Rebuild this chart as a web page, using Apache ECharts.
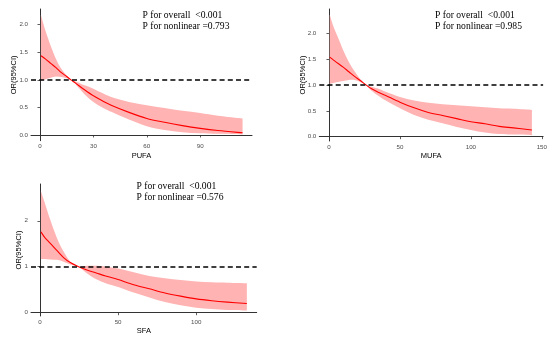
<!DOCTYPE html>
<html><head><meta charset="utf-8">
<script src="https://cdn.jsdelivr.net/npm/echarts@6/dist/echarts.min.js"></script>
<style>html,body{margin:0;padding:0;background:#fff}#c{width:550px;height:340px}</style>
</head><body><div id="c"></div>
<script>
// ---- data ----
const pufaX     = [0.5, 3, 6, 9, 12, 15, 17.4, 20, 25, 30, 35, 40, 50, 60, 70, 80, 90, 100, 113.8];
const pufaFit   = [1.44, 1.38, 1.30, 1.22, 1.13, 1.06, 1.0, 0.94, 0.82, 0.71, 0.62, 0.54, 0.41, 0.30, 0.23, 0.17, 0.12, 0.08, 0.04];
const pufaUpper = [2.18, 1.90, 1.62, 1.38, 1.20, 1.08, 1.0, 0.97, 0.90, 0.84, 0.76, 0.69, 0.60, 0.54, 0.49, 0.44, 0.40, 0.35, 0.30];
const pufaLower = [0.98, 1.01, 1.04, 1.06, 1.05, 1.03, 1.0, 0.92, 0.74, 0.60, 0.50, 0.42, 0.28, 0.16, 0.09, 0.05, 0.03, 0.02, 0.01];

const mufaX     = [0.5, 3, 6, 10, 14, 18, 22, 26.3, 30, 35, 40, 50, 60, 70, 80, 90, 100, 110, 120, 130, 143];
const mufaFit   = [1.545, 1.49, 1.43, 1.35, 1.26, 1.17, 1.09, 1.0, 0.93, 0.86, 0.80, 0.67, 0.56, 0.47, 0.41, 0.35, 0.29, 0.25, 0.20, 0.17, 0.13];
const mufaUpper = [2.37, 2.15, 1.95, 1.68, 1.45, 1.27, 1.12, 1.0, 0.97, 0.93, 0.87, 0.77, 0.70, 0.66, 0.63, 0.61, 0.59, 0.57, 0.55, 0.54, 0.52];
const mufaLower = [1.025, 1.04, 1.06, 1.08, 1.10, 1.10, 1.06, 1.0, 0.89, 0.79, 0.70, 0.55, 0.42, 0.33, 0.26, 0.19, 0.13, 0.08, 0.05, 0.04, 0.03];

const sfaX      = [0.6, 3, 6.6, 10.9, 15.1, 19.4, 24.7, 30, 36.4, 42, 50, 60, 70, 80, 90, 100, 110, 120, 132.4];
const sfaFit    = [1.76, 1.64, 1.51, 1.35, 1.20, 1.09, 1.0, 0.93, 0.86, 0.80, 0.72, 0.61, 0.52, 0.43, 0.36, 0.30, 0.26, 0.23, 0.20];
const sfaUpper  = [2.65, 2.40, 2.02, 1.62, 1.33, 1.11, 1.0, 1.02, 1.02, 1.0, 0.96, 0.88, 0.80, 0.75, 0.71, 0.68, 0.66, 0.65, 0.64];
const sfaLower  = [1.17, 1.17, 1.16, 1.15, 1.11, 1.05, 1.0, 0.86, 0.72, 0.64, 0.56, 0.44, 0.33, 0.23, 0.16, 0.11, 0.08, 0.06, 0.05];

const pufaXTicks = [0, 30, 60, 90];
const pufaYTicks = [0, 0.5, 1, 1.5, 2];
const mufaXTicks = [0, 50, 100, 150];
const mufaYTicks = [0, 0.5, 1, 1.5, 2];
const sfaXTicks  = [0, 50, 100];
const sfaYTicks  = [0, 1, 2];

const pufaNotes = ['P for overall  <0.001', 'P for nonlinear =0.793'];
const mufaNotes = ['P for overall  <0.001', 'P for nonlinear =0.985'];
const sfaNotes  = ['P for overall  <0.001', 'P for nonlinear =0.576'];

const refValue = 1;

// ---- helpers: smooth path through already-projected pixel points ----
function crSegments(pts) {
  let d = '';
  for (let i = 0; i < pts.length - 1; i++) {
    const p0 = pts[Math.max(i - 1, 0)], p1 = pts[i], p2 = pts[i + 1], p3 = pts[Math.min(i + 2, pts.length - 1)];
    const c1 = [p1[0] + (p2[0] - p0[0]) / 6, p1[1] + (p2[1] - p0[1]) / 6];
    const c2 = [p2[0] - (p3[0] - p1[0]) / 6, p2[1] - (p3[1] - p1[1]) / 6];
    d += ' C' + c1[0] + ' ' + c1[1] + ' ' + c2[0] + ' ' + c2[1] + ' ' + p2[0] + ' ' + p2[1];
  }
  return d;
}

// ---- chart ----
const panels = [
  {name:'PUFA', x:pufaX, fit:pufaFit, up:pufaUpper, lo:pufaLower, xt:pufaXTicks, yt:pufaYTicks, dec:1,
   grid:{left:31, top:9, width:221, height:131.7}, xr:[-5.05,119.1], yr:[-0.104,2.285], yGap:12.7, xGap:11, notes:pufaNotes, np:[142.5,10.5], lh:10.5},
  {name:'MUFA', x:mufaX, fit:mufaFit, up:mufaUpper, lo:mufaLower, xt:mufaXTicks, yt:mufaYTicks, dec:1,
   grid:{left:319.3, top:9, width:224, height:132}, xr:[-6.83,150.9], yr:[-0.084,2.479], yGap:12, xGap:11, notes:mufaNotes, np:[435,10.5], lh:10.8},
  {name:'SFA', x:sfaX, fit:sfaFit, up:sfaUpper, lo:sfaLower, xt:sfaXTicks, yt:sfaYTicks, dec:0,
   grid:{left:31, top:184, width:225.7, height:132}, xr:[-5.75,138.7], yr:[-0.072,2.80], yGap:7.7, xGap:11, notes:sfaNotes, np:[136.5,181], lh:11}
];

const grids = [], xAxes = [], yAxes = [], series = [], graphics = [];
panels.forEach((p, i) => {
  grids.push(Object.assign({containLabel:false}, p.grid));
  const axisCommon = {
    axisLine:{show:true, lineStyle:{color:'#333', width:1}},
    axisTick:{show:true, length:2.5, lineStyle:{color:'#333', width:0.8}},
    splitLine:{show:false},
    nameMoveOverlap:false,
    nameTextStyle:{fontFamily:'Liberation Sans', fontSize:7.5, color:'#000'}
  };
  xAxes.push(Object.assign({}, axisCommon, {
    type:'value', gridIndex:i, min:p.xr[0], max:p.xr[1],
    name:p.name, nameLocation:'middle', nameGap:p.xGap,
    axisTick:Object.assign({}, axisCommon.axisTick, {customValues:p.xt}),
    axisLabel:{customValues:p.xt, fontFamily:'Liberation Sans', fontSize:6.2, color:'#4d4d4d', margin:3}
  }));
  yAxes.push(Object.assign({}, axisCommon, {
    type:'value', gridIndex:i, min:p.yr[0], max:p.yr[1],
    name:'OR(95%CI)', nameLocation:'middle', nameGap:p.yGap,
    axisTick:Object.assign({}, axisCommon.axisTick, {customValues:p.yt}),
    axisLabel:{customValues:p.yt, fontFamily:'Liberation Sans', fontSize:6.2, color:'#4d4d4d', margin:3,
      formatter:v => v.toFixed(p.dec)}
  }));
  const rows = p.x.map((x, k) => [x, p.lo[k], p.fit[k], p.up[k]]);
  // confidence band
  series.push({
    type:'custom', xAxisIndex:i, yAxisIndex:i, silent:true, clip:true, z:1,
    encode:{x:0, y:[1,3]}, data:rows,
    renderItem:(params, api) => {
      if (params.dataIndex !== 0) return null;
      const upPts = rows.map(r => api.coord([r[0], r[3]]));
      const loPts = rows.map(r => api.coord([r[0], r[1]])).reverse();
      const d = 'M' + upPts[0][0] + ' ' + upPts[0][1] + crSegments(upPts) +
                ' L' + loPts[0][0] + ' ' + loPts[0][1] + crSegments(loPts) + ' Z';
      return {type:'path', shape:{pathData:d}, style:{fill:'#ffb3b3', stroke:null}};
    }
  });
  // fitted curve + reference line
  series.push({
    type:'custom', xAxisIndex:i, yAxisIndex:i, silent:true, clip:true, z:3,
    encode:{x:0, y:2}, data:rows,
    renderItem:(params, api) => {
      if (params.dataIndex !== 0) return null;
      const pts = rows.map(r => api.coord([r[0], r[2]]));
      const d = 'M' + pts[0][0] + ' ' + pts[0][1] + crSegments(pts);
      return {type:'path', shape:{pathData:d}, style:{fill:null, stroke:'#ff0000', lineWidth:1.1}};
    },
    markLine:{silent:true, symbol:'none', label:{show:false}, animation:false,
      lineStyle:{color:'#000', width:1.6, type:[5,3.2]}, data:[{yAxis:refValue}]}
  });
  graphics.push({
    type:'text', left:p.np[0], top:p.np[1], silent:true, z:100,
    style:{text:p.notes.join('\n'), fontFamily:'Liberation Serif', fontSize:9.6, lineHeight:p.lh, fill:'#000'}
  });
});

const chart = echarts.init(document.getElementById('c'), null, {renderer:'canvas'});
chart.setOption({
  animation:false,
  grid:grids, xAxis:xAxes, yAxis:yAxes, series:series, graphic:graphics
});
</script></body></html>
